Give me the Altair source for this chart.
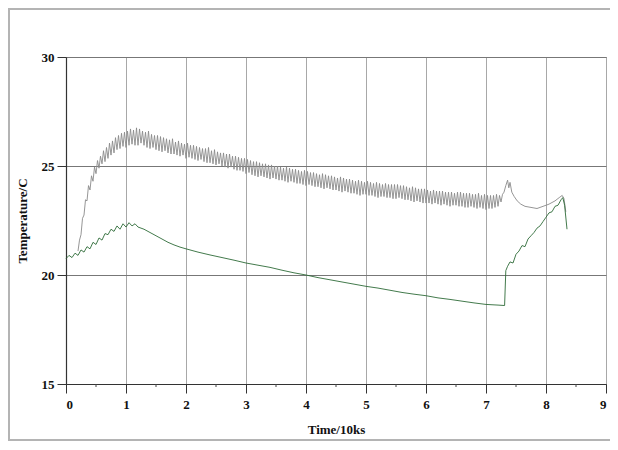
import altair as alt
import pandas as pd
import numpy as np

# ---------------- data ----------------
# upper (grey) record, noisy part: rows of 4 readings, 0.025 apart, row starts 0.20, 0.30, ... 7.20
gray_start = 0.20
gray_step = 0.025
gray_rows = [
    [21.10, 21.60, 21.85, 22.60],  # 0.2
    [22.75, 23.45, 23.40, 24.10],  # 0.3
    [23.90, 24.55, 24.30, 24.95],  # 0.4
    [24.65, 25.25, 24.90, 25.45],  # 0.5
    [25.10, 25.70, 25.20, 25.85],  # 0.6
    [25.35, 26.05, 25.50, 26.15],  # 0.7
    [25.60, 26.30, 25.75, 26.40],  # 0.8
    [25.80, 26.50, 25.90, 26.55],  # 0.9
    [25.85, 26.60, 25.95, 26.70],  # 1.0
    [26.00, 26.65, 25.95, 26.75],  # 1.1
    [25.95, 26.70, 26.05, 26.60],  # 1.2
    [25.95, 26.55, 25.85, 26.60],  # 1.3
    [25.80, 26.45, 25.85, 26.40],  # 1.4
    [25.75, 26.40, 25.70, 26.35],  # 1.5
    [25.65, 26.30, 25.70, 26.25],  # 1.6
    [25.60, 26.20, 25.55, 26.25],  # 1.7
    [25.55, 26.10, 25.50, 26.15],  # 1.8
    [25.45, 26.05, 25.50, 26.00],  # 1.9
    [25.35, 26.05, 25.40, 25.95],  # 2.0
    [25.35, 25.95, 25.30, 25.90],  # 2.1
    [25.25, 25.85, 25.30, 25.80],  # 2.2
    [25.20, 25.80, 25.15, 25.85],  # 2.3
    [25.15, 25.70, 25.10, 25.75],  # 2.4
    [25.05, 25.65, 25.10, 25.60],  # 2.5
    [25.00, 25.60, 24.95, 25.55],  # 2.6
    [24.90, 25.55, 24.95, 25.45],  # 2.7
    [24.85, 25.45, 24.80, 25.40],  # 2.8
    [24.80, 25.35, 24.75, 25.35],  # 2.9
    [24.65, 25.30, 24.70, 25.25],  # 3.0
    [24.60, 25.20, 24.55, 25.20],  # 3.1
    [24.50, 25.15, 24.55, 25.10],  # 3.2
    [24.50, 25.10, 24.45, 25.05],  # 3.3
    [24.40, 25.05, 24.45, 25.00],  # 3.4
    [24.40, 25.00, 24.35, 24.95],  # 3.5
    [24.35, 24.90, 24.30, 24.95],  # 3.6
    [24.25, 24.90, 24.30, 24.85],  # 3.7
    [24.25, 24.85, 24.20, 24.80],  # 3.8
    [24.20, 24.75, 24.15, 24.80],  # 3.9
    [24.10, 24.75, 24.15, 24.70],  # 4.0
    [24.10, 24.70, 24.05, 24.65],  # 4.1
    [24.05, 24.60, 24.00, 24.65],  # 4.2
    [23.95, 24.60, 24.00, 24.55],  # 4.3
    [23.95, 24.55, 23.90, 24.50],  # 4.4
    [23.90, 24.45, 23.85, 24.50],  # 4.5
    [23.80, 24.45, 23.85, 24.40],  # 4.6
    [23.80, 24.40, 23.75, 24.35],  # 4.7
    [23.75, 24.30, 23.70, 24.35],  # 4.8
    [23.65, 24.30, 23.70, 24.25],  # 4.9
    [23.70, 24.30, 23.65, 24.25],  # 5.0
    [23.65, 24.20, 23.60, 24.25],  # 5.1
    [23.55, 24.20, 23.60, 24.15],  # 5.2
    [23.60, 24.20, 23.55, 24.15],  # 5.3
    [23.55, 24.15, 23.50, 24.15],  # 5.4
    [23.50, 24.15, 23.55, 24.10],  # 5.5
    [23.50, 24.10, 23.45, 24.05],  # 5.6
    [23.45, 24.00, 23.40, 24.05],  # 5.7
    [23.35, 24.00, 23.40, 23.95],  # 5.8
    [23.35, 23.95, 23.30, 23.95],  # 5.9
    [23.30, 23.90, 23.30, 23.85],  # 6.0
    [23.25, 23.90, 23.30, 23.85],  # 6.1
    [23.25, 23.85, 23.20, 23.85],  # 6.2
    [23.25, 23.80, 23.20, 23.80],  # 6.3
    [23.15, 23.80, 23.20, 23.75],  # 6.4
    [23.20, 23.80, 23.15, 23.80],  # 6.5
    [23.15, 23.75, 23.10, 23.75],  # 6.6
    [23.10, 23.75, 23.15, 23.70],  # 6.7
    [23.10, 23.70, 23.05, 23.75],  # 6.8
    [23.10, 23.65, 23.05, 23.70],  # 6.9
    [23.00, 23.65, 23.05, 23.65],  # 7.0
    [23.05, 23.65, 23.10, 23.70],  # 7.1
    [23.15, 23.65, 23.35, 23.70],  # 7.2
]
gray_tail_t = [7.30, 7.33, 7.36, 7.38, 7.40, 7.43, 7.47, 7.52, 7.58, 7.65,
               7.75, 7.85, 7.95, 8.05, 8.15, 8.22, 8.27, 8.30, 8.33]
gray_tail_v = [23.80, 24.10, 24.35, 24.00, 24.25, 23.80, 23.60, 23.40, 23.25, 23.15,
               23.10, 23.05, 23.15, 23.25, 23.40, 23.55, 23.65, 23.50, 22.90]

# lower (green) record: noisy start 0 .. 1.20 step 0.05
green_start = 0.0
green_step = 0.05
green_noisy = [
    20.75, 20.90, 20.80, 21.00, 20.90, 21.15, 21.05, 21.30, 21.20, 21.50,
    21.40, 21.70, 21.60, 21.90, 21.85, 22.10, 22.00, 22.25, 22.10, 22.35,
    22.20, 22.40, 22.25, 22.35, 22.20,
]
green_tail_t = [1.30, 1.40, 1.50, 1.60, 1.70, 1.80, 1.90, 2.00, 2.20, 2.40,
                2.60, 2.80, 3.00, 3.20, 3.40, 3.60, 3.80, 4.00, 4.20, 4.40,
                4.60, 4.80, 5.00, 5.20, 5.40, 5.60, 5.80, 6.00, 6.20, 6.40,
                6.60, 6.80, 7.00, 7.20, 7.31, 7.33, 7.36, 7.40, 7.45, 7.50,
                7.55, 7.60, 7.65, 7.70, 7.75, 7.80, 7.85, 7.90, 7.95, 8.00,
                8.05, 8.10, 8.15, 8.20, 8.25, 8.28, 8.31, 8.35]
green_tail_v = [22.10, 21.95, 21.80, 21.65, 21.50, 21.38, 21.28, 21.20, 21.05, 20.92,
                20.80, 20.68, 20.55, 20.45, 20.35, 20.22, 20.10, 20.00, 19.88, 19.78,
                19.68, 19.58, 19.48, 19.40, 19.30, 19.20, 19.12, 19.05, 18.95, 18.88,
                18.80, 18.72, 18.65, 18.62, 18.60, 20.20, 20.40, 20.60, 20.55, 20.95,
                21.10, 21.35, 21.30, 21.65, 21.80, 21.95, 22.15, 22.25, 22.45, 22.65,
                22.85, 22.90, 23.15, 23.20, 23.45, 23.55, 23.20, 22.10]

x_ticks = [0, 1, 2, 3, 4, 5, 6, 7, 8, 9]
x_minor = [0.5, 1.5, 2.5, 3.5, 4.5, 5.5, 6.5, 7.5, 8.5]
y_ticks = [15, 20, 25, 30]

# ---------------- build tables ----------------
gray_noisy = [v for row in gray_rows for v in row]
gray_t = list(np.round(gray_start + gray_step * np.arange(len(gray_noisy)), 4)) + gray_tail_t
gray_v = gray_noisy + gray_tail_v
green_t = list(np.round(green_start + green_step * np.arange(len(green_noisy)), 4)) + green_tail_t
green_v = green_noisy + green_tail_v

df = pd.concat([
    pd.DataFrame({"t": gray_t, "v": gray_v, "s": "upper", "i": range(len(gray_t))}),
    pd.DataFrame({"t": green_t, "v": green_v, "s": "lower", "i": range(len(green_t))}),
])

W, H = 540, 327
FONT = "Liberation Serif"

xscale = alt.Scale(domain=[0, 9], nice=False, zero=False)
yscale = alt.Scale(domain=[15, 30], nice=False, zero=False)

frame = alt.Chart(pd.DataFrame({"a": [0]})).mark_rect(
    fill="white", fillOpacity=0, stroke="#b4b4b4", strokeWidth=2
).encode(x=alt.value(-57), x2=alt.value(580), y=alt.value(-48), y2=alt.value(383))

minor = alt.Chart(pd.DataFrame({"m": x_minor})).mark_rule(
    color="#444", strokeWidth=1
).encode(x=alt.X("m:Q", scale=xscale), y=alt.value(H), y2=alt.value(H + 3))

lines = alt.Chart(df).mark_line(strokeWidth=0.9, interpolate="linear").encode(
    x=alt.X("t:Q", scale=xscale,
            axis=alt.Axis(values=x_ticks, format="d", title="Time/10ks",
                          tickSize=9, labelPadding=5, titlePadding=12,
                          gridColor="#a8a8a8")),
    y=alt.Y("v:Q", scale=yscale,
            axis=alt.Axis(values=y_ticks, format="d", title="Temperature/C",
                          tickSize=9, labelPadding=3, titlePadding=12,
                          gridColor="#777777")),
    color=alt.Color("s:N", scale=alt.Scale(domain=["upper", "lower"],
                                           range=["#8a8a8a", "#2e6b38"]), legend=None),
    order="i:Q",
)

chart = alt.layer(frame, minor, lines).properties(
    width=W, height=H,
    autosize=alt.AutoSizeParams(type="none"),
    padding={"left": 58, "top": 49, "right": 4, "bottom": 58},
).configure_view(
    stroke="#777777", strokeWidth=1
).configure_axis(
    labelFont=FONT, labelFontWeight="bold", labelFontSize=13, labelColor="#111",
    titleFont=FONT, titleFontWeight="bold", titleFontSize=13, titleColor="#111",
    tickColor="#333", domainColor="#333", domainWidth=1.2, gridWidth=1,
    grid=True,
)

chart.save("out.html", embed_options={"renderer": "svg", "actions": False})
